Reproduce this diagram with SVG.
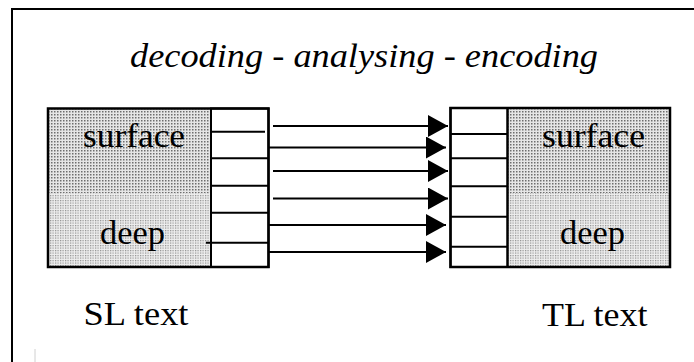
<svg xmlns="http://www.w3.org/2000/svg" width="694" height="362" viewBox="0 0 694 362">
<style>
.frame{stroke:#000;stroke-width:2;fill:none}
.box{stroke:#000;stroke-width:2.5;fill:none}
.cell{stroke:#000;stroke-width:2;fill:#fff}
.div{stroke:#000;stroke-width:2}
.conn{stroke:#000;stroke-width:2;fill:none}
.lbl{font-family:"Liberation Serif","Times New Roman",serif;font-size:33px;fill:#000}
.title{font-family:"Liberation Serif","Times New Roman",serif;font-size:34px;font-style:italic;fill:#000}
</style>
<defs>
<pattern id="pSurf" width="3" height="3" patternUnits="userSpaceOnUse">
<rect width="3" height="3" fill="#e6e6e6"/>
<rect x="0" y="0" width="1.5" height="1.5" fill="#6e6e6e"/>
</pattern>
<pattern id="pDeep" width="2.5" height="2.5" patternUnits="userSpaceOnUse">
<rect width="2.5" height="2.5" fill="#eeeeee"/>
<rect x="0" y="0" width="1.2" height="1.2" fill="#8e8e8e"/>
</pattern>
<marker id="ah" markerUnits="userSpaceOnUse" markerWidth="22" markerHeight="24" refX="20" refY="11" orient="auto" viewBox="0 0 22 24">
<polygon points="0,0 20,11 0,22" fill="#000"/>
</marker>
</defs>
<rect width="694" height="362" fill="#fff"/>
<g id="frame">
<polyline class="frame" points="12,362 12,9 694,9"/>
<line x1="35" y1="349" x2="35" y2="362" stroke="#d0d0d0" stroke-width="1"/>
</g>
<g id="title">
<text class="title" x="130" y="67" textLength="468" lengthAdjust="spacingAndGlyphs">decoding - analysing - encoding</text>
</g>
<g id="sl-box">
<rect x="48" y="108.5" width="163" height="85" fill="url(#pSurf)"/>
<rect x="48" y="193.5" width="163" height="73.5" fill="url(#pDeep)"/>
<rect class="cell" x="211" y="108.5" width="57.5" height="158.5"/>
<line class="div" x1="211" y1="131.7" x2="265" y2="131.7"/>
<line class="div" x1="211" y1="158.3" x2="268.5" y2="158.3"/>
<line class="div" x1="211" y1="185.7" x2="268.5" y2="185.7"/>
<line class="div" x1="211" y1="212.7" x2="268.5" y2="212.7"/>
<line class="div" x1="206" y1="242.7" x2="268.5" y2="242.7"/>
<rect class="box" x="48" y="108.5" width="220.5" height="158.5"/>
<line class="div" x1="211" y1="108.5" x2="211" y2="267"/>
<text class="lbl" x="83" y="146.5" textLength="102" lengthAdjust="spacingAndGlyphs">surface</text>
<text class="lbl" x="100" y="243.5" textLength="65" lengthAdjust="spacingAndGlyphs">deep</text>
</g>
<g id="tl-box">
<rect x="507.5" y="108" width="162.5" height="85" fill="url(#pSurf)"/>
<rect x="507.5" y="193" width="162.5" height="74" fill="url(#pDeep)"/>
<rect class="cell" x="450.5" y="108" width="57" height="159"/>
<line class="div" x1="450.5" y1="134" x2="507.5" y2="134"/>
<line class="div" x1="450.5" y1="158.3" x2="507.5" y2="158.3"/>
<line class="div" x1="450.5" y1="186.3" x2="507.5" y2="186.3"/>
<line class="div" x1="450.5" y1="216.7" x2="507.5" y2="216.7"/>
<line class="div" x1="450.5" y1="246.7" x2="507.5" y2="246.7"/>
<rect class="box" x="450.5" y="108" width="219.5" height="159"/>
<line class="div" x1="507.5" y1="108" x2="507.5" y2="267"/>
<text class="lbl" x="542" y="146.5" textLength="103" lengthAdjust="spacingAndGlyphs">surface</text>
<text class="lbl" x="560" y="243.5" textLength="65" lengthAdjust="spacingAndGlyphs">deep</text>
</g>
<g id="connectors">
<line class="conn" x1="273" y1="126" x2="448" y2="126" marker-end="url(#ah)"/>
<line class="conn" x1="268" y1="147.5" x2="446" y2="147.5" marker-end="url(#ah)"/>
<line class="conn" x1="273" y1="171" x2="448" y2="171" marker-end="url(#ah)"/>
<line class="conn" x1="273" y1="198.5" x2="448" y2="198.5" marker-end="url(#ah)"/>
<line class="conn" x1="268" y1="225" x2="446" y2="225" marker-end="url(#ah)"/>
<line class="conn" x1="268" y1="252" x2="446" y2="252" marker-end="url(#ah)"/>
</g>
<g id="sl-label">
<text class="lbl" x="83.5" y="325" textLength="105" lengthAdjust="spacingAndGlyphs">SL text</text>
</g>
<g id="tl-label">
<text class="lbl" x="542" y="326" textLength="105.5" lengthAdjust="spacingAndGlyphs">TL text</text>
</g>
</svg>
